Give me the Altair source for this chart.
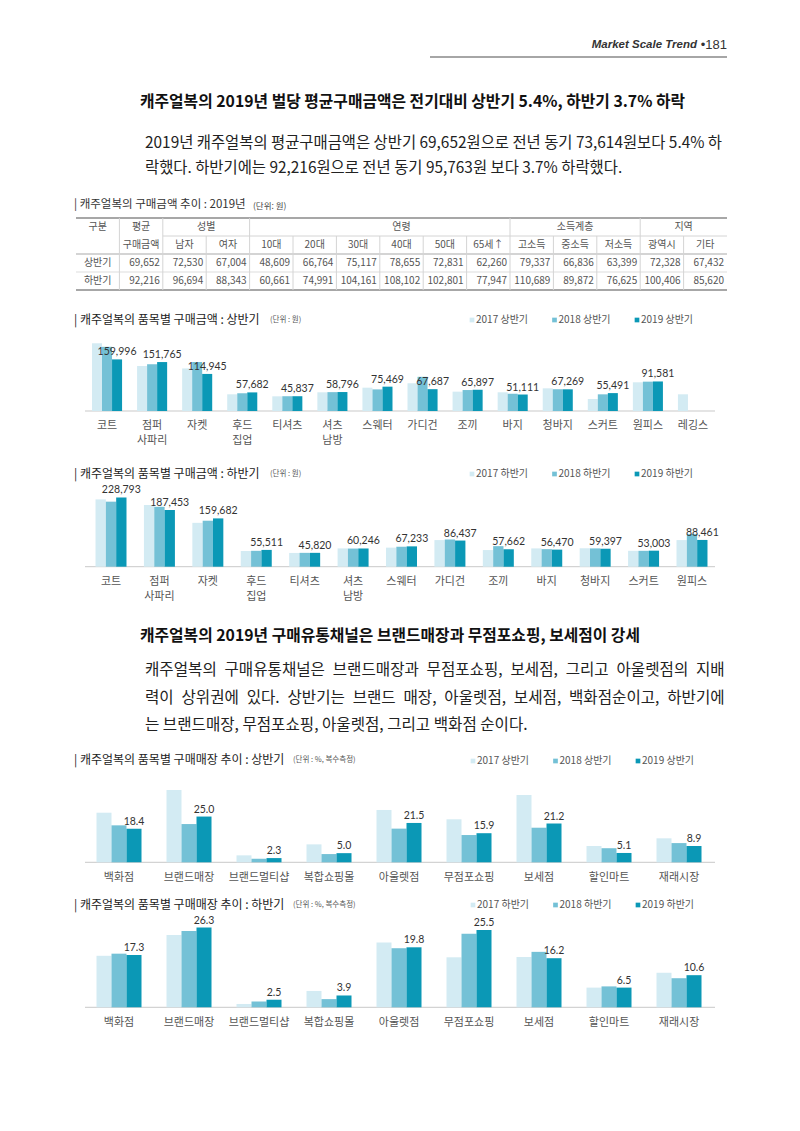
import altair as alt
import pandas as pd

KF = "Noto Sans CJK KR"
NF = "Lato"
EN = "\u2002"

# ---------------- data ----------------
tbl_cols = ['구분', '평균', '남자', '여자', '10대', '20대', '30대', '40대', '50대', '65세↑',
            '고소득', '중소득', '저소득', '광역시', '기타']
tbl_rows = ['상반기', '하반기']
tbl_first = [69652, 72530, 67004, 48609, 66764, 75117, 78655, 72831, 62260, 79337, 66836, 63399, 72328, 67432]
tbl_second = [92216, 96694, 88343, 60661, 74991, 104161, 108102, 102801, 77947, 110689, 89872, 76625, 100406, 85620]

series_h1 = ['2017 상반기', '2018 상반기', '2019 상반기']
series_h2 = ['2017 하반기', '2018 하반기', '2019 하반기']
colors = ['#d3ebf3', '#74c1d6', '#0b98b6']

items1 = ['코트', '점퍼\n사파리', '자켓', '후드\n집업', '티셔츠', '셔츠\n남방', '스웨터', '가디건',
          '조끼', '바지', '청바지', '스커트', '원피스', '레깅스']
a1_2017 = [210000, 139500, 132000, 51800, 45500, 58000, 72300, 86000, 60000, 58000, 70300, 37200, 89000, 51800]
a1_2018 = [199000, 145000, 152000, 55000, 45800, 58500, 67000, 106000, 65000, 53600, 67500, 51700, 91000, None]
a1_2019 = [159996, 151765, 114945, 57682, 45837, 58796, 75469, 67687, 65897, 51111, 67269, 55491, 91581, None]

items2 = ['코트', '점퍼\n사파리', '자켓', '후드\n집업', '티셔츠', '셔츠\n남방', '스웨터', '가디건',
          '조끼', '바지', '청바지', '스커트', '원피스']
a2_2017 = [222500, 204000, 145000, 52000, 45500, 60500, 63000, 88000, 55000, 60500, 61000, 52500, 88000]
a2_2018 = [215000, 198000, 152000, 52500, 45800, 60000, 66000, 90000, 68000, 58000, 60500, 52500, 108000]
a2_2019 = [228793, 187453, 159682, 55511, 45820, 60246, 67233, 86437, 57662, 56470, 59397, 53003, 88461]

stores = ['백화점', '브랜드매장', '브랜드멀티샵', '복합쇼핑몰', '아울렛점', '무점포쇼핑', '보세점', '할인마트', '재래시장']
s1_2017 = [27.1, 39.5, 3.8, 9.8, 28.6, 23.5, 36.8, 8.9, 13.1]
s1_2018 = [20.2, 20.9, 2.0, 4.5, 18.4, 14.9, 18.9, 7.7, 10.5]
s1_2019 = [18.4, 25.0, 2.3, 5.0, 21.5, 15.9, 21.2, 5.1, 8.9]
s2_2017 = [17.0, 23.9, 1.1, 5.4, 21.4, 16.5, 16.6, 6.5, 11.4]
s2_2018 = [17.7, 25.2, 1.9, 2.7, 19.5, 24.3, 18.3, 6.9, 9.6]
s2_2019 = [17.3, 26.3, 2.5, 3.9, 19.8, 25.5, 16.2, 6.5, 10.6]

heading1 = '캐주얼복의 2019년 벌당 평균구매금액은 전기대비 상반기 5.4%, 하반기 3.7% 하락'
heading2 = '캐주얼복의 2019년 구매유통채널은 브랜드매장과 무점포쇼핑, 보세점이 강세'
para1 = ['2019년 캐주얼복의 평균구매금액은 상반기 69,652원으로 전년 동기 73,614원보다 5.4% 하',
         '락했다. 하반기에는 92,216원으로 전년 동기 95,763원 보다 3.7% 하락했다.']
para2 = ['캐주얼복의 구매유통채널은 브랜드매장과 무점포쇼핑, 보세점, 그리고 아울렛점의 지배',
         '력이 상위권에 있다. 상반기는 브랜드 매장,  아울렛점, 보세점, 백화점순이고, 하반기에',
         '는 브랜드매장, 무점포쇼핑, 아울렛점, 그리고 백화점 순이다.']

# ---------------- helpers ----------------
def T(s, x, y, size=12, color='#222', weight='normal', align='left', font=KF,
      style='normal', lh=None):
    kw = dict(align=align, baseline='middle', fontSize=size, color=color,
              fontWeight=weight, font=font, fontStyle=style)
    if lh:
        kw['lineHeight'] = lh
        kw['lineBreak'] = '\n'
    return alt.Chart(alt.Data(values=[{'t': s}])).mark_text(**kw).encode(
        x=alt.value(x), y=alt.value(y), text='t:N')


def R(x1, x2, y1, y2, color='#999', w=1.0):
    return alt.Chart(alt.Data(values=[{'a': 0}])).mark_rule(color=color, strokeWidth=w).encode(
        x=alt.value(x1), x2=alt.value(x2), y=alt.value(y1), y2=alt.value(y2))


def bar_group(cats, series, vals, xr, pi, yr, ydom, fmt, cat_y, lab_size=10.5):
    rows = []
    for s, arr in zip(series, vals):
        for c, v in zip(cats, arr):
            if v is not None:
                rows.append({'cat': c, 'series': s, 'value': v})
    df = pd.DataFrame(rows)
    xs = alt.Scale(domain=cats, range=xr, paddingInner=pi, paddingOuter=pi / 2)
    os_ = alt.Scale(domain=series, paddingInner=0, paddingOuter=0)
    ys = alt.Scale(domain=ydom, range=yr, nice=False, zero=True)
    X = alt.X('cat:N', scale=xs, axis=None)
    XO = alt.XOffset('series:N', scale=os_)
    Y = alt.Y('value:Q', scale=ys, axis=None)
    bars = alt.Chart(df).mark_bar().encode(
        x=X, xOffset=XO, y=Y,
        color=alt.Color('series:N', scale=alt.Scale(domain=series, range=colors), legend=None))
    labels = alt.Chart(df).transform_filter(alt.datum.series == series[-1]).mark_text(
        baseline='alphabetic', dy=-4, fontSize=lab_size, color='#333', font=NF).encode(
        x=X, xOffset=XO, y=Y, text=alt.Text('value:Q', format=fmt))
    base_line = alt.Chart(pd.DataFrame({'z': [0]})).mark_rule(color='#c9c9c9', strokeWidth=1).encode(
        x=alt.value(85), x2=alt.value(715), y=alt.Y('z:Q', scale=ys, axis=None))
    catlab = alt.Chart(pd.DataFrame({'cat': cats})).mark_text(
        baseline='middle', fontSize=11, color='#555', font=KF, lineBreak='\n', lineHeight=15).encode(
        x=X, y=alt.value(cat_y), text='cat:N')
    return alt.layer(base_line, bars, labels, catlab)


def legend(series, xr, y):
    df = pd.DataFrame({'s': series})
    xs = alt.Scale(domain=series, range=xr, type='point', padding=0)
    X = alt.X('s:N', scale=xs, axis=None)
    sq = alt.Chart(df).mark_square(size=22, opacity=1).encode(
        x=X, y=alt.value(y),
        color=alt.Color('s:N', scale=alt.Scale(domain=series, range=colors), legend=None))
    tx = alt.Chart(df).mark_text(align='left', baseline='middle', dx=4, fontSize=10,
                                 color='#555', font=KF).encode(x=X, y=alt.value(y), text='s:N')
    return alt.layer(sq, tx)


# ---------------- table ----------------
row_keys = ['h1', 'h2'] + tbl_rows
cs = alt.Scale(domain=tbl_cols, range=[76, 727], paddingInner=0, paddingOuter=0)
rs = alt.Scale(domain=row_keys, range=[218, 290], paddingInner=0, paddingOuter=0)

cells = []
for r, arr in zip(tbl_rows, [tbl_first, tbl_second]):
    for c, v in zip(tbl_cols[1:], arr):
        cells.append({'row': r, 'col': c, 'v': v})
cells = pd.DataFrame(cells)

t_vals = alt.Chart(cells).mark_text(align='right', baseline='middle', dx=-3, fontSize=10,
                                    color='#555', font=KF).encode(
    x=alt.X('col:N', scale=cs, bandPosition=1, axis=None),
    y=alt.Y('row:N', scale=rs, axis=None),
    text=alt.Text('v:Q', format=','))
t_rowlab = alt.Chart(pd.DataFrame({'row': tbl_rows, 'col': ['구분', '구분']})).mark_text(
    baseline='middle', fontSize=10, color='#555', font=KF).encode(
    x=alt.X('col:N', scale=cs, axis=None), y=alt.Y('row:N', scale=rs, axis=None), text='row:N')
t_h2 = alt.Chart(pd.DataFrame({'col': tbl_cols[2:], 'row': ['h2'] * len(tbl_cols[2:])})).mark_text(
    baseline='middle', fontSize=10, color='#555', font=KF).encode(
    x=alt.X('col:N', scale=cs, axis=None), y=alt.Y('row:N', scale=rs, axis=None), text='col:N')
t_span = alt.Chart(pd.DataFrame({'col': ['구분', '평균'], 'row': ['h1', 'h1'],
                                 'lab': ['구분', '평균\n구매금액']})).mark_text(
    baseline='middle', fontSize=10, color='#555', font=KF, lineBreak='\n', lineHeight=18).encode(
    x=alt.X('col:N', scale=cs, axis=None), y=alt.Y('row:N', scale=rs, bandPosition=1, axis=None),
    text='lab:N')
t_grp1 = alt.Chart(pd.DataFrame({'col': ['남자', '광역시'], 'row': ['h1', 'h1'],
                                 'lab': ['성별', '지역']})).mark_text(
    baseline='middle', fontSize=10, color='#555', font=KF).encode(
    x=alt.X('col:N', scale=cs, bandPosition=1, axis=None), y=alt.Y('row:N', scale=rs, axis=None),
    text='lab:N')
t_grp2 = alt.Chart(pd.DataFrame({'col': ['40대', '중소득'], 'row': ['h1', 'h1'],
                                 'lab': ['연령', '소득계층']})).mark_text(
    baseline='middle', fontSize=10, color='#555', font=KF).encode(
    x=alt.X('col:N', scale=cs, axis=None), y=alt.Y('row:N', scale=rs, axis=None), text='lab:N')
v_full = alt.Chart(pd.DataFrame({'col': ['평균', '남자', '10대', '고소득', '광역시']})).mark_rule(
    color='#d4d4d4', strokeWidth=1).encode(
    x=alt.X('col:N', scale=cs, bandPosition=0, axis=None), y=alt.value(218), y2=alt.value(290))
v_part = alt.Chart(pd.DataFrame({'col': ['여자', '20대', '30대', '40대', '50대', '65세↑', '중소득', '저소득', '기타']})).mark_rule(
    color='#d4d4d4', strokeWidth=1).encode(
    x=alt.X('col:N', scale=cs, bandPosition=0, axis=None), y=alt.value(236), y2=alt.value(290))
h_sub = alt.Chart(pd.DataFrame({'col': ['남자']})).mark_rule(color='#d4d4d4', strokeWidth=1).encode(
    x=alt.X('col:N', scale=cs, bandPosition=0, axis=None), x2=alt.value(727), y=alt.value(236))
table = alt.layer(v_full, v_part, h_sub, t_vals, t_rowlab, t_h2, t_span, t_grp1, t_grp2)

# ---------------- page ----------------
P1 = 15.4
P2 = 15.6
layers = [
    T('Market Scale Trend', 697, 45, size=11.5, color='#333', weight='bold', align='right',
      font='Liberation Sans', style='italic'),
    T('•181', 727, 45, size=13, color='#333', align='right', font='Liberation Sans'),
    R(430, 727, 57, 57, '#888', 1.5),
    T(heading1, 140, 102, size=15.8, color='#111', weight='bold'),
    T(para1[0], 145, 143, size=P1, color='#222'),
    T(para1[1], 145, 168, size=P1, color='#222'),
    T('| 캐주얼복의 구매금액 추이 : 2019년', 74, 205, size=11.5, color='#333'),
    T('(단위: 원)', 253, 206, size=8.5, color='#444'),
    R(76, 727, 218, 218, '#8a8a8a', 1.5),
    R(76, 727, 254, 254, '#aaaaaa', 1.2),
    R(76, 727, 272, 272, '#dddddd', 1),
    R(76, 727, 290, 290, '#8a8a8a', 1.5),
    table,
    T('| 캐주얼복의 품목별 구매금액 : 상반기', 74, 320, size=12, color='#222'),
    T('(단위 : 원)', 270, 320, size=7.5, color='#555'),
    legend(series_h1, [472, 637], 320),
    bar_group(items1, series_h1, [a1_2017, a1_2018, a1_2019], [84.5, 715.5], 0.333,
              [411, 346.5], [0, 200000], ',', 426),
    T('| 캐주얼복의 품목별 구매금액 : 하반기', 74, 474, size=12, color='#222'),
    T('(단위 : 원)', 270, 474, size=7.5, color='#555'),
    legend(series_h2, [472, 637], 474),
    bar_group(items2, series_h2, [a2_2017, a2_2018, a2_2019], [86.8, 716.2], 0.36,
              [566.7, 506.2], [0, 200000], ',', 582),
    T(heading2, 140, 636, size=15.8, color='#111', weight='bold'),
    T(para2[0].replace(' ', EN), 145, 670, size=P2, color='#222'),
    T(para2[1].replace('  ', ' ').replace(' ', EN), 145, 698, size=P2, color='#222'),
    T(para2[2], 145, 725, size=P2, color='#222'),
    T('| 캐주얼복의 품목별 구매매장 추이 : 상반기', 74, 760, size=12, color='#222'),
    T('(단위 : %, 복수측정)', 293, 760, size=7.5, color='#555'),
    legend(series_h1, [473, 638], 761),
    bar_group(stores, series_h1, [s1_2017, s1_2018, s1_2019], [84, 714], 0.357,
              [862.3, 789.1], [0, 40], '.1f', 878),
    T('| 캐주얼복의 품목별 구매매장 추이 : 하반기', 74, 905, size=12, color='#222'),
    T('(단위 : %, 복수측정)', 293, 905, size=7.5, color='#555'),
    legend(series_h2, [473, 638], 905),
    bar_group(stores, series_h2, [s2_2017, s2_2018, s2_2019], [84, 714], 0.357,
              [1007.3, 916.4], [0, 30], '.1f', 1023),
]

chart = alt.layer(*layers).resolve_scale(
    x='independent', y='independent', xOffset='independent', color='independent'
).properties(
    width=800, height=1131, padding=0, background='white',
    autosize=alt.AutoSizeParams(type='none')
).configure_view(stroke=None)

chart.save("out.html", embed_options={"renderer": "svg", "actions": False})
